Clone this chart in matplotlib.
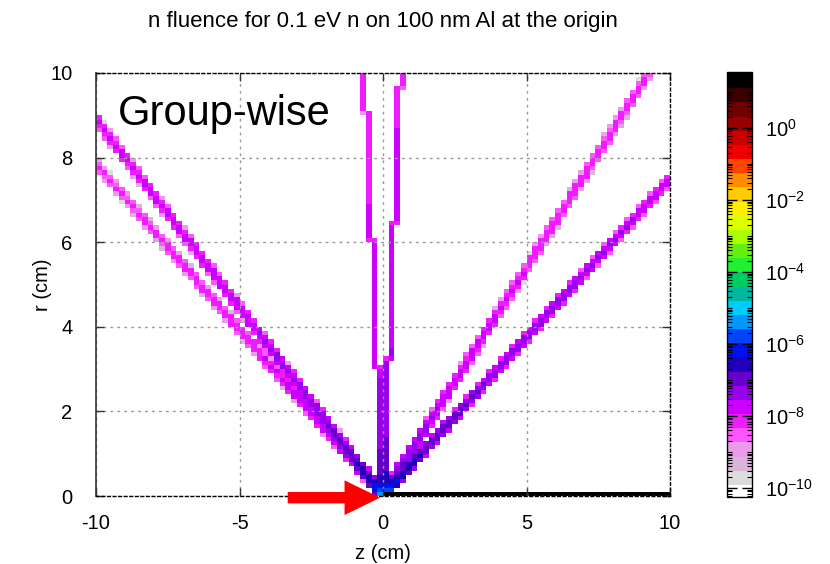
import numpy as np
import matplotlib
matplotlib.use('Agg')
import matplotlib.pyplot as plt
from matplotlib.colors import ListedColormap, LogNorm
from matplotlib.ticker import LogLocator, FixedLocator, NullFormatter, FuncFormatter
from matplotlib.patches import Polygon

plt.rcParams['font.family'] = ['Liberation Sans', 'DejaVu Sans']
plt.rcParams['mathtext.default'] = 'regular'
plt.rcParams['axes.unicode_minus'] = False

# ---------------- data ----------------
TITLE = "n fluence for 0.1 eV n on 100 nm Al at the origin"
X_LABEL = "z (cm)"
Y_LABEL = "r (cm)"
PANEL_LABEL = "Group-wise"

# binning of the scoring mesh (z, r)
Z_RANGE = (-10.0, 10.0)
R_RANGE = (0.0, 10.0)
N_Z = 100
N_R = 100

# rays leaving the origin: direction (dz, dr), fluence of a fully crossed cell at r = 1 cm,
# and half width of the ray (cm)
RAY_DZ = [-1.0, -1.0, 1.0, 1.0, -0.066, 0.062]
RAY_DR = [0.89, 0.785, 1.08, 0.75, 1.0, 1.0]
RAY_FLUENCE_1CM = [10**-6.75, 10**-7.2, 10**-7.05, 10**-6.5, 10**-7.05, 10**-6.95]
RAY_HALF_WIDTH = [0.06, 0.06, 0.06, 0.06, 0.0, 0.0]

# direct beam on axis (first radial bin)
BEAM_Z = (0.0, 10.0)
BEAM_FLUENCE = 30.0

X_TICKS = [-10, -5, 0, 5, 10]
Y_TICKS = [0, 2, 4, 6, 8, 10]
CB_TICKS = [1e-10, 1e-8, 1e-6, 1e-4, 1e-2, 1e0]
CB_LOG_RANGE = (-10.25, 1.55)
CB_COLORS = ['#ffffff', '#dcdcdc', '#d9b3d9', '#ec9aec', '#ff55ff', '#ee1cff',
             '#cc00ff', '#9900ee', '#6600cc', '#2200bb', '#0011ee', '#0044ff',
             '#0099ff', '#00ccff', '#00b8a0', '#00cc66', '#22ee33', '#66ee11',
             '#aaff00', '#ddff00', '#ffee00', '#ffcc00', '#ff8c00', '#ff4400',
             '#ee0000', '#cc0000', '#990000', '#6e0000', '#3a0000', '#000000']

# ---------------- build the mesh ----------------
ze = np.linspace(Z_RANGE[0], Z_RANGE[1], N_Z + 1)
re = np.linspace(R_RANGE[0], R_RANGE[1], N_R + 1)
dz = ze[1] - ze[0]
dr = re[1] - re[0]
Z0, R0 = np.meshgrid(ze[:-1], re[:-1])
Z1, R1 = np.meshgrid(ze[1:], re[1:])
RMID = 0.5 * (R0 + R1)


def track_length(pz, pr, uz, ur):
    ta, tb = (Z0 - pz) / uz, (Z1 - pz) / uz
    tzmin, tzmax = np.minimum(ta, tb), np.maximum(ta, tb)
    ra, rb = (R0 - pr) / ur, (R1 - pr) / ur
    trmin, trmax = np.minimum(ra, rb), np.maximum(ra, rb)
    tin = np.maximum(np.maximum(tzmin, trmin), 0.0)
    tout = np.minimum(tzmax, trmax)
    return np.clip(tout - tin, 0, None)


H = np.zeros_like(Z0)
for cz, cr, f1, hw in zip(RAY_DZ, RAY_DR, RAY_FLUENCE_1CM, RAY_HALF_WIDTH):
    n = np.hypot(cz, cr)
    uz, ur = cz / n, cr / n
    Lref = min(dr / abs(ur), dz / abs(uz))
    offsets = [0.0] if hw == 0 else [-hw, 0.0, hw]
    L = np.zeros_like(Z0)
    for o in offsets:
        L += track_length(-o * ur, o * uz, uz, ur)
    L /= len(offsets)
    H += f1 * (L / Lref) / RMID

beam_cols = (ze[:-1] >= BEAM_Z[0] - 1e-9) & (ze[1:] <= BEAM_Z[1] + 1e-9)
H[0, beam_cols] = BEAM_FLUENCE

Hm = np.ma.masked_less_equal(H, 0)

# ---------------- figure ----------------
fig = plt.figure(figsize=(8.3, 5.64), dpi=100)
ax = fig.add_axes([96 / 830, 1 - 496 / 564, 574 / 830, 423 / 564])
cax = fig.add_axes([727 / 830, 1 - 497 / 564, 25 / 830, 425 / 564])

cmap = ListedColormap(CB_COLORS)
cmap.set_under('white')
cmap.set_over('black')
cmap.set_bad((1, 1, 1, 0))
norm = LogNorm(vmin=10 ** CB_LOG_RANGE[0], vmax=10 ** CB_LOG_RANGE[1])

mesh = ax.pcolormesh(ze, re, Hm, cmap=cmap, norm=norm, shading='flat',
                     edgecolors='none', antialiased=False, zorder=1)

ax.set_xlim(Z_RANGE)
ax.set_ylim(R_RANGE)
ax.set_xticks(X_TICKS)
ax.set_yticks(Y_TICKS)
ax.tick_params(direction='in', length=6, width=1, color='#333333',
               top=True, right=True, labelsize=14.5)
ax.tick_params(axis='x', pad=13)
ax.tick_params(axis='y', pad=17)
ax.grid(True, color='#999999', linestyle=(0, (2, 3)), linewidth=1)

for side in ['top', 'right', 'bottom']:
    ax.spines[side].set_linestyle((0, (2, 2)))
    ax.spines[side].set_color('black')
    ax.spines[side].set_linewidth(1)
ax.spines['left'].set_color('#333333')
ax.spines['left'].set_linewidth(1.2)

ax.set_xlabel(X_LABEL, fontsize=14.5, labelpad=8)
ax.set_ylabel(Y_LABEL, fontsize=14.5, labelpad=-1)
fig.text(382.5 / 830, 1 - 27 / 564, TITLE, ha='center', va='baseline', fontsize=16)

ax.text((118 - 96) / 574, (496 - 125) / 423, PANEL_LABEL, transform=ax.transAxes,
        fontsize=30, ha='left', va='baseline', zorder=5)

# red arrow pointing at the origin
ARROW_SHAFT_Z = (-3.32, -1.34)
ARROW_TIP_Z = -0.1
ARROW_R = -0.04
arrow = Polygon([(ARROW_SHAFT_Z[0], ARROW_R - 0.135), (ARROW_SHAFT_Z[1], ARROW_R - 0.135),
                 (ARROW_SHAFT_Z[1], ARROW_R - 0.41), (ARROW_TIP_Z, ARROW_R),
                 (ARROW_SHAFT_Z[1], ARROW_R + 0.41), (ARROW_SHAFT_Z[1], ARROW_R + 0.135),
                 (ARROW_SHAFT_Z[0], ARROW_R + 0.135)],
                closed=True, facecolor='#ff0000', edgecolor='none',
                clip_on=False, zorder=10)
ax.add_patch(arrow)

cb = fig.colorbar(mesh, cax=cax, extend='neither')
cb.solids.set_edgecolor('face')
cb.outline.set_color('black')
cb.outline.set_linewidth(1)
cax.yaxis.set_major_locator(FixedLocator(CB_TICKS))
cax.yaxis.set_major_formatter(FuncFormatter(lambda v, p: r'$10^{%d}$' % round(np.log10(v))))
cax.yaxis.set_minor_locator(LogLocator(base=10, subs=np.arange(1, 10), numticks=40))
cax.yaxis.set_minor_formatter(NullFormatter())
cax.tick_params(which='major', direction='in', length=7, width=1, labelsize=14.5,
                left=True, right=True, pad=9)
cax.tick_params(which='minor', direction='in', length=3.5, width=0.8,
                left=True, right=True)

fig.savefig('out.png', dpi=100)
